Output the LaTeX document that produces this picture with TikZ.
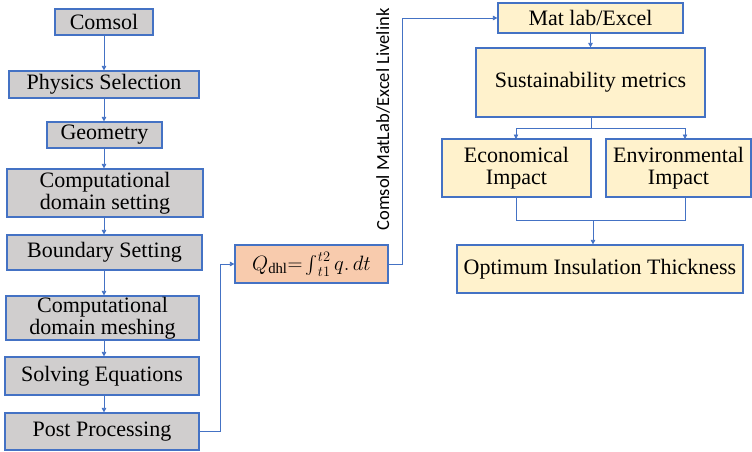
\documentclass[tikz,border=0pt]{standalone}
\usepackage{graphicx}
\usepackage{fontspec}
\setmainfont{Liberation Serif}
\newfontfamily\boxfont{Liberation Serif}
\newfontfamily\labfont{Carlito}
\usetikzlibrary{arrows.meta}
\definecolor{bblue}{HTML}{4472C4}
\definecolor{gfill}{HTML}{D0CECE}
\definecolor{yfill}{HTML}{FFF2CC}
\definecolor{pfill}{HTML}{F8CBAD}
\tikzset{
  box/.style={draw=bblue, line width=1.2pt, inner sep=0pt, align=center,
    font=\boxfont\fontsize{22}{22}\selectfont, text=black},
  gbox/.style={box, fill=gfill},
  ybox/.style={box, fill=yfill},
  pbox/.style={box, fill=pfill},
  conn/.style={draw=bblue, line width=0.8pt},
  arr/.style={conn, -{Triangle[length=4.5pt,width=4.5pt]}},
}
\begin{document}
\begin{tikzpicture}[x=1pt,y=-1pt]
\useasboundingbox (0,0) rectangle (752,451);
% left column
\node[gbox, minimum width=98pt, minimum height=26pt] (comsol) at (104,22) {Comsol};
\node[gbox, minimum width=190pt, minimum height=27pt] (phys) at (104,84.5) {Physics Selection};
\node[gbox, minimum width=115pt, minimum height=26pt] (geom) at (104.5,135) {Geometry};
\node[gbox, minimum width=196pt, minimum height=48pt] (cds) at (105,193) {Computational\\domain setting};
\node[gbox, minimum width=195pt, minimum height=35pt] (bound) at (104.5,252.5) {Boundary Setting};
\node[gbox, minimum width=193pt, minimum height=44pt] (cdm) at (102.5,318) {Computational\\domain meshing};
\node[gbox, minimum width=194pt, minimum height=38pt] (solve) at (102,376) {Solving Equations};
\node[gbox, minimum width=194pt, minimum height=37pt] (post) at (102,431.5) {Post Processing};
% Q box
\node[pbox, minimum width=153pt, minimum height=38pt, font=\boxfont\fontsize{21}{21}\selectfont] (q) at (311.5,264)
  {$Q_{\mathrm{dhl}}{=}\mathop{\vcenter{\hbox{\scalebox{1.8}{$\int$}}}}\nolimits_{t1}^{t2} q.\,dt$};
% right side
\node[ybox, minimum width=185pt, minimum height=30pt] (mat) at (590.5,18) {Mat lab/Excel};
\node[ybox, minimum width=229pt, minimum height=69pt] (sust) at (590.5,82.5) {Sustainability metrics};
\node[ybox, minimum width=149pt, minimum height=58pt] (econ) at (516.5,168) {Economical\\Impact};
\node[ybox, minimum width=145pt, minimum height=58pt] (env) at (678.5,168) {Environmental\\Impact};
\node[ybox, minimum width=286pt, minimum height=48pt] (opt) at (600,269) {Optimum Insulation Thickness};
% vertical label
\node[rotate=90, inner sep=0pt, font=\labfont\fontsize{18.5}{18.5}\selectfont, text=black] (lab) at (383,119.5) {Comsol MatLab/Excel Livelink};
% left column arrows
\foreach \a/\b in {comsol/phys, phys/geom, geom/cds, cds/bound, bound/cdm, cdm/solve, solve/post}
  \draw[arr] (\a.south -| 104,0) -- (\b.north -| 104,0);
% post -> q
\coordinate (p1) at (220,431.5);
\draw[arr] (post.east) -- (p1) |- (q.west);
% q -> mat
\coordinate (p2) at (402,264);
\draw[arr] (q.east) -- (p2) |- (mat.west);
% mat -> sust
\draw[arr] (mat.south) -- (sust.north);
% split
\coordinate (s1) at (591,128);
\coordinate (eL) at (516,139);
\coordinate (eR) at (685,139);
\draw[conn] (sust.south -| s1) -- (s1);
\draw[arr] (s1) -| (eL);
\draw[arr] (s1) -| (eR);
% merge
\coordinate (m1) at (593,220);
\draw[conn] (econ.south -| eL) |- (m1);
\draw[conn] (env.south -| eR) |- (m1);
\draw[arr] (m1) -- (opt.north -| m1);
\end{tikzpicture}
\end{document}
